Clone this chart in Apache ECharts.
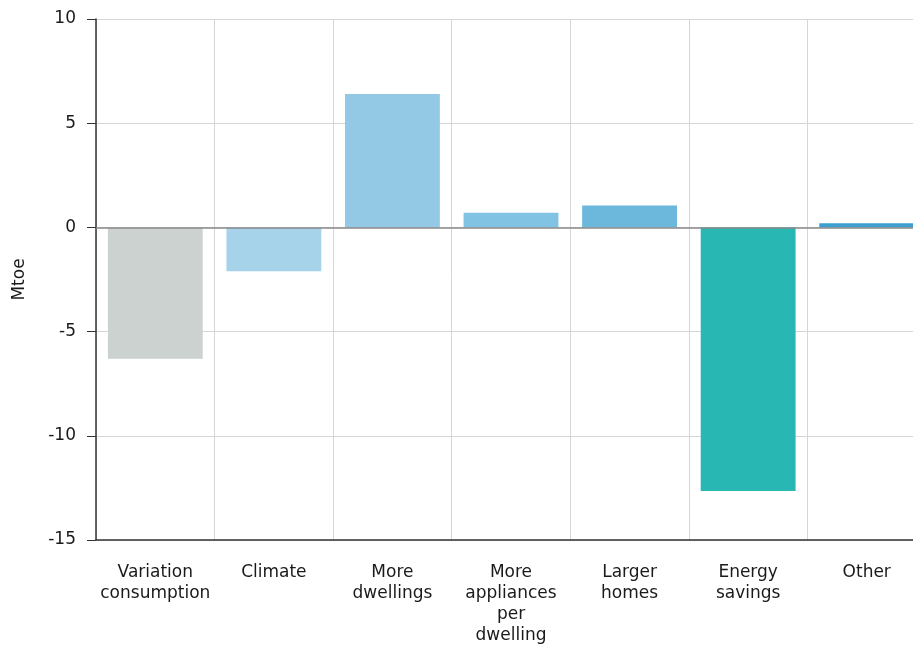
<!DOCTYPE html>
<html>
<head>
<meta charset="utf-8">
<script src="https://cdn.jsdelivr.net/npm/echarts@6/dist/echarts.min.js"></script>
<style>html,body{margin:0;padding:0;background:#fff;overflow:hidden;width:913px;height:646px}#c{width:926px;height:646px}</style>
</head>
<body>
<div id="c"></div>
<script>
const categories = ["Variation\nconsumption", "Climate", "More\ndwellings", "More\nappliances\nper\ndwelling", "Larger\nhomes", "Energy\nsavings", "Other"];
const values = [-6.3, -2.1, 6.4, 0.7, 1.05, -12.65, 0.2];
const barColors = ["#cbd2cf", "#a6d3ea", "#93c9e4", "#80c3e2", "#6cb8dd", "#28b7b3", "#3d9fd0"];
const yTicks = { min: -15, max: 10, interval: 5 };
const yName = "Mtoe";

const FONT = "DejaVu Sans";
const chart = echarts.init(document.getElementById('c'), null, { renderer: 'canvas' });
chart.setOption({
  animation: false,
  backgroundColor: '#fff',
  grid: { left: 96, right: 0, top: 19, bottom: 106, containLabel: false },
  xAxis: {
    type: 'category',
    data: categories,
    axisLine: { onZero: false, lineStyle: { color: '#333', width: 1.5 } },
    axisTick: { alignWithLabel: true, length: 9, lineStyle: { color: '#333' } },
    axisLabel: { interval: 0, margin: 22, fontFamily: FONT, fontSize: 17, lineHeight: 21, color: '#1a1a1a' },
    splitLine: { show: true, lineStyle: { color: '#d6d6d6', width: 1 } }
  },
  yAxis: {
    type: 'value',
    min: yTicks.min, max: yTicks.max, interval: yTicks.interval,
    name: yName,
    nameLocation: 'middle',
    nameGap: 68,
    nameTextStyle: { fontFamily: FONT, fontSize: 17, color: '#1a1a1a' },
    axisLine: { show: true, lineStyle: { color: '#333', width: 1.5 } },
    axisTick: { show: true, length: 9, lineStyle: { color: '#333' } },
    axisLabel: { margin: 20, fontFamily: FONT, fontSize: 17, color: '#1a1a1a' },
    splitLine: { show: true, lineStyle: { color: '#d6d6d6', width: 1 } }
  },
  series: [{
    type: 'bar',
    barCategoryGap: '20%',
    data: values.map((v, i) => ({ value: v, itemStyle: { color: barColors[i] } })),
    markLine: {
      silent: true,
      symbol: 'none',
      label: { show: false },
      lineStyle: { color: '#8a8a8a', type: 'solid', width: 1.5 },
      data: [{ yAxis: 0 }]
    }
  }]
});
</script>
</body>
</html>
